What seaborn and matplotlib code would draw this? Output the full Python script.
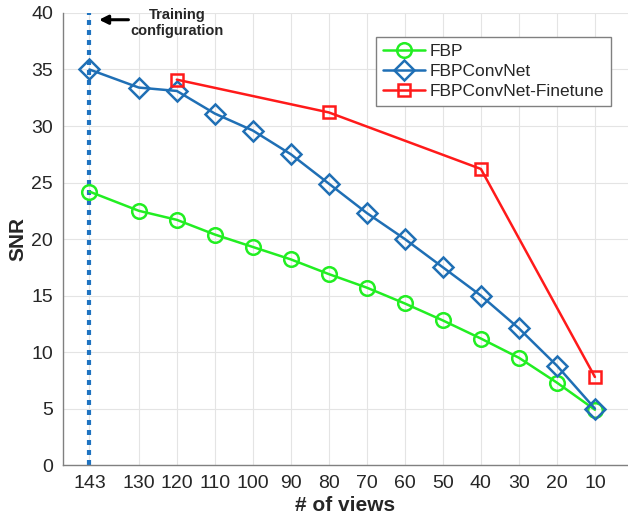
import numpy as np
import pandas as pd
import matplotlib
matplotlib.use("Agg")
import matplotlib.pyplot as plt
import seaborn as sns

# ------------------------------
# Data
# ------------------------------
views = [143, 130, 120, 110, 100, 90, 80, 70, 60, 50, 40, 30, 20, 10]
fbp = [24.2, 22.5, 21.7, 20.4, 19.3, 18.2, 16.9, 15.7, 14.3, 12.8, 11.2, 9.5, 7.3, 4.9]
fbpconvnet = [35.0, 33.4, 33.1, 31.1, 29.6, 27.5, 24.9, 22.3, 20.0, 17.5, 15.0, 12.1, 8.8, 5.0]
finetune_views = [120, 80, 40, 10]
finetune = [34.1, 31.2, 26.2, 7.8]

train_views = 143

sns.set_style("whitegrid")
plt.rcParams["font.family"] = ["Liberation Sans", "DejaVu Sans"]

fig = plt.figure(figsize=(6.28, 5.18), dpi=100)
ax = fig.add_axes([0.1, 0.102, 0.9, 0.873])

# training configuration marker
ax.axvline(train_views, color="#1f73c0", linestyle=(0, (1.2, 1.2)), linewidth=3, zorder=1)

series = [
    ("FBP", views, fbp, "#22ee22", "o"),
    ("FBPConvNet", views, fbpconvnet, "#1f6fb5", "D"),
    ("FBPConvNet-Finetune", finetune_views, finetune, "#ff1a1a", "s"),
]
for name, xs, ys, color, marker in series:
    d = pd.DataFrame({"views": xs, "snr": ys})
    sns.lineplot(data=d, x="views", y="snr", ax=ax, color=color, label=name,
                 marker=marker, markersize=10.5 if marker != "s" else 8,
                 markerfacecolor="none", markeredgecolor=color, markeredgewidth=1.8,
                 linewidth=1.8, zorder=3)

ax.set_xlim(150, 1.3)
ax.set_ylim(0, 40)
ax.set_xticks(views)
ax.set_xticklabels([str(v) for v in views])
ax.set_yticks(np.arange(0, 41, 5))
ax.tick_params(axis="both", labelsize=14, direction="in", length=4, color="#808080", pad=7)
ax.grid(True, color="#e4e4e4", linewidth=0.8)
ax.set_xlabel("# of views", fontsize=15, fontweight="bold", labelpad=3)
ax.set_ylabel("SNR", fontsize=15, fontweight="bold", labelpad=3)

for s in ["top", "right"]:
    ax.spines[s].set_visible(False)
for s in ["left", "bottom"]:
    ax.spines[s].set_color("#808080")
    ax.spines[s].set_linewidth(1)

ax.annotate("", xy=(141.2, 39.4), xytext=(132, 39.4),
            arrowprops=dict(arrowstyle="-|>", color="black", lw=2.2, mutation_scale=13),
            annotation_clip=False)
ax.text(120.0, 39.1, "Training\nconfiguration", ha="center", va="center",
        fontsize=10.5, fontweight="bold", linespacing=1.15, clip_on=False)

leg = ax.legend(loc="upper right", bbox_to_anchor=(0.986, 0.967), fontsize=12.5,
                frameon=True, fancybox=False, edgecolor="#808080", framealpha=1,
                handlelength=2.4, borderpad=0.4, labelspacing=0.3, handletextpad=0.3)
leg.get_frame().set_linewidth(1)

fig.savefig("out.png", dpi=100)
